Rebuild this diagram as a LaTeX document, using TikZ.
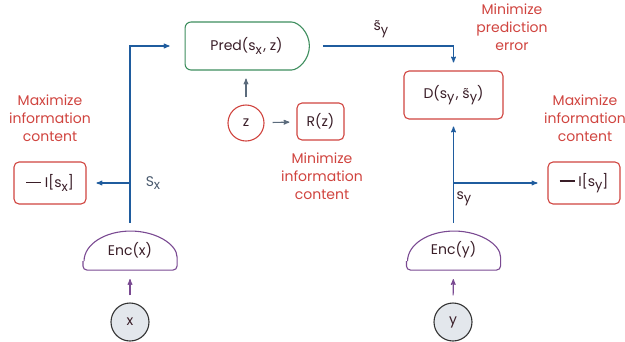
\documentclass[tikz,border=0pt]{standalone}
\usepackage{fontspec}
\setmainfont{Poppins}
\usetikzlibrary{arrows,shapes.misc,positioning}
\definecolor{lossred}{HTML}{D0443F}
\definecolor{flowblue}{HTML}{1F5C9E}
\definecolor{predgreen}{HTML}{3E8E5E}
\definecolor{encpurple}{HTML}{7A4A92}
\definecolor{arrowgrey}{HTML}{5B6B7C}
\definecolor{inkdark}{HTML}{3A1E28}
\definecolor{labelgrey}{HTML}{4A5A6E}
\definecolor{inputgrey}{HTML}{E3E7EC}
\newcommand{\lowr}[1]{\raisebox{-0.45ex}{\fontsize{13}{13}\selectfont #1}}
\newcommand{\stil}{\accent"02DC s}
\newcommand{\negbar}{\rule[0.32em]{15pt}{1.3pt}}

\begin{document}
\begin{tikzpicture}[x=1pt,y=-1pt,>=stealth',shorten >=0pt,line width=1.1pt,
                    font=\fontsize{14}{18}\selectfont,text=inkdark]
  \tikzstyle{loss}=[draw=lossred,rounded corners=5pt,inner sep=0pt]
  \tikzstyle{note}=[text=lossred,align=center]
  \tikzstyle{flow}=[draw=flowblue]
  \tikzstyle{encline}=[draw=encpurple]
  \tikzstyle{input}=[circle,draw=black!80,fill=inputgrey,minimum size=38pt,inner sep=0pt]

  \useasboundingbox (0,0) rectangle (625,341);

  \node[input] (x) at (130,322) {x};
  \node[input] (y) at (453,322) {y};

  \node[minimum width=93pt,minimum height=39pt,inner sep=0pt] (encx) at (130,250) {Enc(x)};
  \node[minimum width=93pt,minimum height=39pt,inner sep=0pt] (ency) at (453.5,250) {Enc(y)};

  \node[rounded rectangle,rounded rectangle left arc=none,rounded corners=6pt,
        draw=predgreen,minimum width=131pt,minimum height=48pt] (pred) at (246.5,46) {Pred(s\lowr{x}\kern1.5pt, z)};
  \node[circle,draw=lossred,minimum size=36pt,inner sep=0pt] (z) at (246,123) {z};
  \node[loss,minimum width=47pt,minimum height=37pt] (rz) at (320.5,121.5) {R(z)};
  \node[loss,minimum width=99pt,minimum height=48pt] (dloss) at (453.5,95) {D(s\lowr{y}\kern1.5pt, \stil\lowr{y})};
  \node[loss,minimum width=72pt,minimum height=42pt] (isx) at (50,183) {\negbar\ I[s\lowr{x}]};
  \node[loss,minimum width=72pt,minimum height=42pt] (isy) at (584,183) {\negbar\ I[s\lowr{y}]};

  \node[note] (maxx) at (50,118) {Maximize\\information\\content};
  \node[note] (maxy) at (585,118) {Maximize\\information\\content};
  \node[note] (minz) at (322,176) {Minimize\\information\\content};
  \node[note] (minerr) at (512,27) {Minimize\\prediction\\error};

  \coordinate (sx) at (130,183);
  \coordinate (sy) at (453.5,183);
  \node[text=labelgrey] (sxlabel) at (153,183) {S\lowr{x}};
  \node (sylabel) at (464,199) {s\lowr{y}};
  \node (sylabeltilde) at (381,29) {\stil\lowr{y}};

  % encoder domes
  \draw[encline,rounded corners=4pt] ([yshift=9pt]encx.south west) -- (encx.south west) -- (encx.south east)
        -- ([yshift=9pt]encx.south east) [sharp corners] arc[start angle=0,end angle=-180,x radius=46.5,y radius=30];
  \draw[encline,rounded corners=4pt] ([yshift=9pt]ency.south west) -- (ency.south west) -- (ency.south east)
        -- ([yshift=9pt]ency.south east) [sharp corners] arc[start angle=0,end angle=-180,x radius=46.5,y radius=30];

  \draw[->,encpurple,shorten <=7pt,shorten >=9pt] (x) -- (encx);
  \draw[->,encpurple,shorten <=7pt,shorten >=9pt] (y) -- (ency);

  \draw[->,flow,shorten <=7pt,shorten >=15pt] (encx.north) |- (pred.west);
  \draw[->,flow,shorten >=10pt] (sx) -- (isx.east);
  \draw[->,flow,shorten <=13pt,shorten >=8pt] (pred.east) -| (dloss.north);
  \draw[->,flow,shorten <=7pt,shorten >=7pt] (ency.north) -- (dloss.south);
  \draw[->,flow,shorten >=10pt] (sy) -- (isy.west);

  \draw[->,arrowgrey,shorten <=7pt,shorten >=8pt] (z) -- (pred.south -| z);
  \draw[->,arrowgrey,shorten <=8pt,shorten >=7pt] (z) -- (rz);
\end{tikzpicture}
\end{document}
